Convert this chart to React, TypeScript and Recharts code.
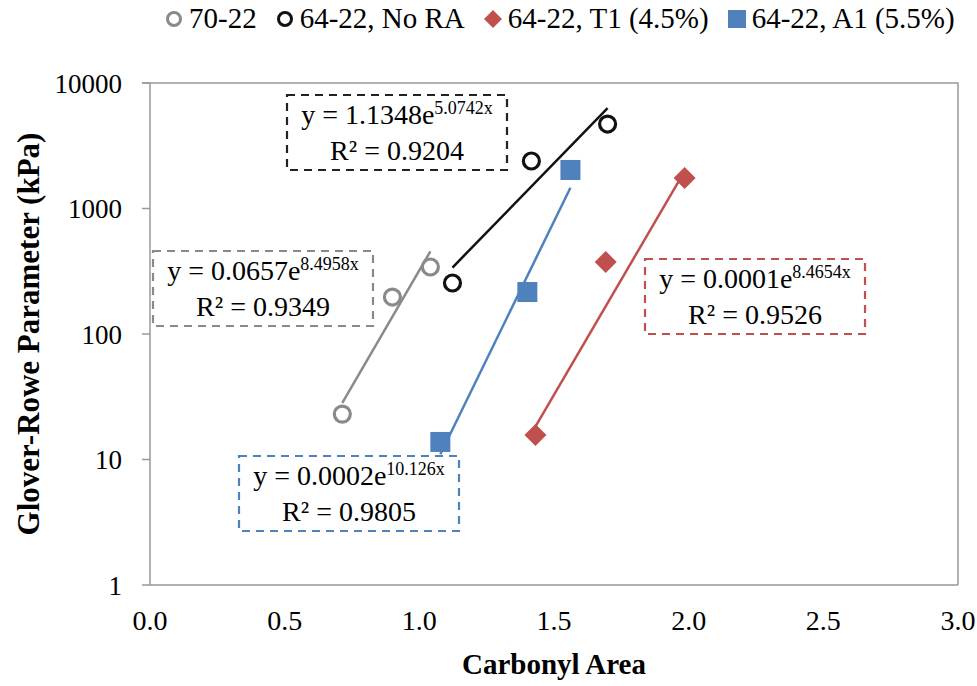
import React from 'react';
import { ScatterChart, Scatter, XAxis, YAxis, Label } from 'recharts';

// Measured points: carbonyl area vs Glover-Rowe parameter (kPa)
const carbonyl7022 = [0.714, 0.9, 1.041];
const gr7022 = [23, 197, 342];

const carbonylNoRA = [1.123, 1.416, 1.699];
const grNoRA = [255, 2390, 4710];

const carbonylT1 = [1.431, 1.692, 1.985];
const grT1 = [15.7, 375, 1750];

const carbonylA1 = [1.078, 1.401, 1.561];
const grA1 = [13.8, 216, 2028];

// Exponential fits y = a * e^(b x), as printed on the chart
const fitA = [0.0657, 1.1348, 0.0001, 0.0002];
const fitB = [8.4958, 5.0742, 8.4654, 10.126];
const fitR2 = ['0.9349', '0.9204', '0.9526', '0.9805'];

const xTicks = [0, 0.5, 1, 1.5, 2, 2.5, 3];
const yTicks = [1, 10, 100, 1000, 10000];

const GRAY = '#8a8a8a';
const BLACK = '#111111';
const RED = '#C0504D';
const BLUE = '#4F81BD';
const FONT = 'Liberation Serif';

const toPoints = (xs: number[], ys: number[]) => xs.map((x, i) => ({ x, y: ys[i] }));

// Trendline across the x-range of its series (straight on a log axis, so two ends suffice)
const trend = (xs: number[], k: number) => {
  const lo = Math.min(...xs);
  const hi = Math.max(...xs);
  return [lo, hi].map((x) => ({ x, y: fitA[k] * Math.exp(fitB[k] * x) }));
};

const OpenCircle = (color: string) => (p: any) => (
  <circle cx={p.cx} cy={p.cy} r={8} fill="#fff" stroke={color} strokeWidth={3.2} />
);
const Diamond = (p: any) => (
  <path d={`M${p.cx},${p.cy - 11} L${p.cx + 11},${p.cy} L${p.cx},${p.cy + 11} L${p.cx - 11},${p.cy} Z`} fill={RED} />
);
const Square = (p: any) => (
  <rect x={p.cx - 10} y={p.cy - 10} width={20} height={20} fill={BLUE} />
);
const NoDot = () => <g />;

const LegendItem: React.FC<{ marker: React.ReactNode; text: string }> = ({ marker, text }) => (
  <span style={{ display: 'inline-flex', alignItems: 'center', marginRight: 18 }}>
    <svg width={20} height={20} style={{ marginRight: 5 }}>{marker}</svg>
    {text}
  </span>
);

const FitBox: React.FC<{ k: number; x: number; y: number; color: string }> = ({ k, x, y, color }) => (
  <g>
    <rect x={x} y={y} width={220} height={75} fill="#fff" stroke={color} strokeWidth={2.2} strokeDasharray="8 6" />
    <text x={x + 110} y={y + 29} textAnchor="middle" fontFamily={FONT} fontSize={28} fill="#000">
      y = {fitA[k]}e<tspan fontSize={18} dy={-10}>{fitB[k]}x</tspan>
    </text>
    <text x={x + 110} y={y + 65} textAnchor="middle" fontFamily={FONT} fontSize={28} fill="#000">
      R² = {fitR2[k]}
    </text>
  </g>
);

export default function App() {
  return (
    <div style={{ position: 'absolute', top: 0, left: 0, width: 977, height: 686, background: '#fff' }}>
      <ScatterChart width={977} height={686} margin={{ top: 83, right: 19, bottom: 61, left: 60 }} style={{ fontFamily: FONT }}>
        <XAxis
          type="number"
          dataKey="x"
          domain={[0, 3]}
          ticks={xTicks}
          tickFormatter={(v: number) => v.toFixed(1)}
          tickLine={false}
          axisLine={{ stroke: '#999', strokeWidth: 1.5 }}
          tick={{ fontFamily: FONT, fontSize: 28, fill: '#000' }}
          tickMargin={19}
          height={40}
        >
          <Label value="Carbonyl Area" position="bottom" offset={28} style={{ fontFamily: FONT, fontSize: 29, fontWeight: 'bold', fill: '#000' }} />
        </XAxis>
        <YAxis
          type="number"
          dataKey="y"
          scale="log"
          domain={[1, 10000]}
          ticks={yTicks}
          allowDataOverflow
          width={90}
          tickSize={8}
          tickLine={{ stroke: '#999', strokeWidth: 1.5 }}
          axisLine={{ stroke: '#999', strokeWidth: 1.5 }}
          tick={{ fontFamily: FONT, fontSize: 27, fill: '#000' }}
          tickMargin={20}
        >
          <Label
            value="Glover-Rowe Parameter (kPa)"
            angle={-90}
            position="insideLeft"
            offset={-32}
            style={{ textAnchor: 'middle', fontFamily: FONT, fontSize: 31, fontWeight: 'bold', fill: '#000' }}
          />
        </YAxis>

        <Scatter data={trend(carbonyl7022, 0)} line={{ stroke: GRAY, strokeWidth: 2.5 }} shape={NoDot} isAnimationActive={false} />
        <Scatter data={trend(carbonylNoRA, 1)} line={{ stroke: BLACK, strokeWidth: 2.5 }} shape={NoDot} isAnimationActive={false} />
        <Scatter data={trend(carbonylT1, 2)} line={{ stroke: RED, strokeWidth: 2.5 }} shape={NoDot} isAnimationActive={false} />
        <Scatter data={trend(carbonylA1, 3)} line={{ stroke: BLUE, strokeWidth: 2.5 }} shape={NoDot} isAnimationActive={false} />

        <Scatter data={toPoints(carbonyl7022, gr7022)} shape={OpenCircle(GRAY)} isAnimationActive={false} />
        <Scatter data={toPoints(carbonylNoRA, grNoRA)} shape={OpenCircle(BLACK)} isAnimationActive={false} />
        <Scatter data={toPoints(carbonylT1, grT1)} shape={Diamond} isAnimationActive={false} />
        <Scatter data={toPoints(carbonylA1, grA1)} shape={Square} isAnimationActive={false} />
      </ScatterChart>

      {/* plot-area frame (top and right edges) and fit annotations */}
      <svg width={977} height={686} style={{ position: 'absolute', top: 0, left: 0, pointerEvents: 'none' }}>
        <polyline points="142,83 958,83 958,585" fill="none" stroke="#999" strokeWidth={1.5} />
        <FitBox k={1} x={287} y={95} color="#222" />
        <FitBox k={0} x={153} y={251} color={GRAY} />
        <FitBox k={2} x={645} y={259} color={RED} />
        <FitBox k={3} x={239} y={456} color={BLUE} />
      </svg>

      <div
        style={{
          position: 'absolute',
          top: 2,
          left: 164,
          fontFamily: FONT,
          fontSize: 29,
          color: '#000',
          whiteSpace: 'nowrap',
          display: 'flex',
          alignItems: 'center',
        }}
      >
        <LegendItem marker={<circle cx={10} cy={10} r={6.5} fill="#fff" stroke={GRAY} strokeWidth={3} />} text="70-22" />
        <LegendItem marker={<circle cx={10} cy={10} r={6.5} fill="#fff" stroke={BLACK} strokeWidth={3} />} text="64-22, No RA" />
        <LegendItem marker={<path d="M10,1 L19,10 L10,19 L1,10 Z" fill={RED} />} text="64-22, T1 (4.5%)" />
        <LegendItem marker={<rect x={1} y={1} width={18} height={18} fill={BLUE} />} text="64-22, A1 (5.5%)" />
      </div>
    </div>
  );
}
